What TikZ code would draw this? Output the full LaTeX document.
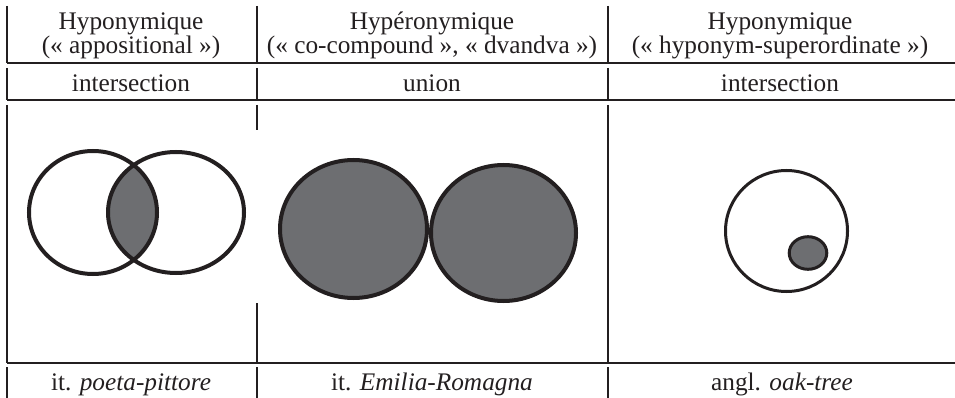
\documentclass[tikz,border=0pt]{standalone}
\usepackage{fontspec}
\setmainfont{Liberation Serif}
\definecolor{ink}{RGB}{35,31,32}
\definecolor{discgray}{RGB}{109,110,113}
\begin{document}
\begin{tikzpicture}[x=1pt,y=-1pt,
  rule/.style={line width=1.8pt, draw=ink},
  vrule/.style={line width=1.4pt, draw=ink},
  lbl/.style={anchor=base, inner sep=0pt, font=\fontsize{25.3}{21.6}\selectfont, text=ink, align=center},
  ring/.style={line width=4pt, draw=ink},
  thinring/.style={line width=3pt, draw=ink},
]
\useasboundingbox (0,0) rectangle (955,398);
% horizontal rules
\draw[rule] (7,63.3) -- (955,63.3);
\draw[rule] (7,100) -- (955,100);
\draw[rule] (7,362.7) -- (955,362.7);
% vertical rules
\foreach \x in {7,257,608} {
  \draw[vrule] (\x,6) -- (\x,63.3);
  \draw[vrule] (\x,68) -- (\x,100);
  \draw[vrule] (\x,367) -- (\x,398);
}
\draw[vrule] (7,105) -- (7,362.7);
\draw[vrule] (257,105) -- (257,130);
\draw[vrule] (257,303) -- (257,362.7);
\draw[vrule] (608,105) -- (608,362.7);
% header texts (base anchor = last line baseline)
\node[lbl] (h1) at (131,53.3) {Hyponymique\\(« appositional »)};
\node[lbl] (h2) at (432,53.3) {Hypéronymique\\(« co-compound », « dvandva »)};
\node[lbl] (h3) at (780,53.3) {Hyponymique\\(« hyponym-superordinate »)};
% second row
\node[lbl] (r1) at (131,91.7) {intersection};
\node[lbl] (r2) at (432,91.7) {union};
\node[lbl] (r3) at (780,91.7) {intersection};
% bottom row
\node[lbl] (b1) at (131,390) {it. \textit{poeta-pittore}};
\node[lbl] (b2) at (432,390) {it. \textit{Emilia-Romagna}};
\node[lbl] (b3) at (782,390) {angl. \textit{oak-tree}};
% left diagram: intersection
\begin{scope}
  \clip (93,212.5) ellipse [x radius=64, y radius=61.5];
  \fill[fill=discgray] (176,212.5) ellipse [x radius=68, y radius=60.5];
\end{scope}
\draw[ring] (93,212.5) ellipse [x radius=64, y radius=61.5];
\draw[ring] (176,212.5) ellipse [x radius=68, y radius=60.5];
% middle diagram: union
\draw[ring, fill=discgray] (353.5,229) ellipse [x radius=73.5, y radius=69];
\draw[ring, fill=discgray] (503.5,233) ellipse [x radius=72.5, y radius=68];
% right diagram: inclusion
\draw[thinring] (786.5,231) ellipse [x radius=61, y radius=60.5];
\draw[thinring, fill=discgray] (808,253) ellipse [x radius=18.8, y radius=16.3];
\end{tikzpicture}
\end{document}
